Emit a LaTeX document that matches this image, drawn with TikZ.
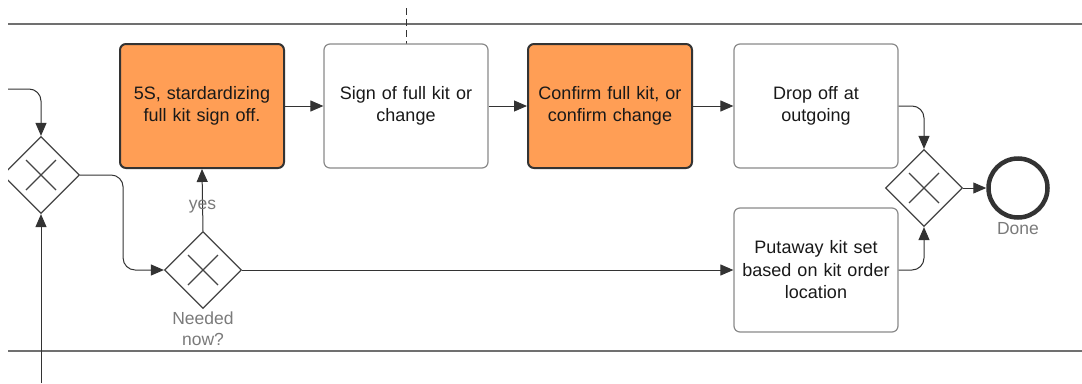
\documentclass[tikz,border=0pt]{standalone}
\usepackage{fontspec}
\setmainfont{Liberation Sans}
\usetikzlibrary{arrows.meta,shapes.geometric}
\definecolor{kitorange}{HTML}{FF9E55}
\definecolor{darkline}{HTML}{333333}
\definecolor{boxgray}{HTML}{8A8A8A}
\definecolor{lanegray}{HTML}{707070}
\definecolor{labelgray}{HTML}{7A7A7A}
\definecolor{gatecol}{HTML}{444444}
\tikzset{
  every node/.style={font=\fontsize{18}{22.5}\selectfont},
  task/.style={rectangle, rounded corners=6pt, minimum width=164pt, minimum height=124pt,
    align=center, text width=162pt, inner sep=0pt, line width=1.2pt, draw=boxgray, fill=white,
    text=black!90},
  hot/.style={task, fill=kitorange, draw=darkline, line width=2pt},
  gate/.style={diamond, aspect=1, draw=gatecol, line width=1.2pt, minimum width=77pt,
    minimum height=77pt, inner sep=0pt, fill=white},
  cross/.style={draw=gatecol, line width=1.2pt},
  flow/.style={draw=darkline, line width=1pt, rounded corners=12pt,
    -{Triangle[length=13pt,width=11pt]}},
  lane/.style={draw=lanegray, line width=2pt},
  note/.style={text=labelgray, align=center, font=\fontsize{17.5}{21}\selectfont},
  endevent/.style={circle, draw=darkline, line width=4.5pt, minimum size=59pt, inner sep=0pt}
}
\begin{document}
\begin{tikzpicture}[x=1pt, y=-1pt]
  \useasboundingbox (0,0) rectangle (1082,383);

  % lane borders and the dashed separator above
  \draw[lane] (8,24) -- (1082,24);
  \draw[lane] (8,351) -- (1082,351);
  \draw[draw=darkline, line width=1pt, dash pattern=on 7pt off 4pt] (406,8) -- (406,44);

  % tasks
  \node[hot]  (b1) at (202,106) {5S, stardardizing\\full kit sign off.};
  \node[task] (b2) at (406,106) {Sign of full kit or\\change};
  \node[hot]  (b3) at (610,106) {Confirm full kit, or\\confirm change};
  \node[task] (b4) at (816,106) {Drop off at\\outgoing};
  \node[task] (b5) at (816,270) {Putaway kit set\\based on kit order\\location};

  % exclusive gateways
  \begin{scope}
    \clip (8,0) rectangle (1082,383);
    \node[gate] (g1) at (41,175) {};
  \end{scope}
  \node[gate] (g2) at (203,270) {};
  \node[gate] (g3) at (924,188) {};
  \foreach \g in {g1,g2,g3}{
    \draw[cross] ([shift={(-15,-15)}]\g.center) -- ([shift={(15,15)}]\g.center);
    \draw[cross] ([shift={(15,-15)}]\g.center) -- ([shift={(-15,15)}]\g.center);
  }

  % end event
  \node[endevent] (done) at (1018,188) {};
  \node[note] (donelbl) at (1018,229) {Done};
  \node[note] (needlbl) at (203,328.5) {Needed\\now?};

  % free ends of incoming flows
  \coordinate (inL) at (8,89);
  \coordinate (inB) at (41,383);

  % sequence flows
  \draw[flow] (inL) -| (g1.north);
  \draw[flow] (inB) -- (g1.south);
  \draw[flow] (g1.east) -- ++(43,0) |- (g2.west);
  \draw[flow] (g2.north) -- (b1.south) node[pos=0.4, note] {yes};
  \draw[flow] (g2.east) -- (b5.west);
  \draw[flow] (b1.east) -- (b2.west);
  \draw[flow] (b2.east) -- (b3.west);
  \draw[flow] (b3.east) -- (b4.west);
  \draw[flow] (b4.east) -| (g3.north);
  \draw[flow] (b5.east) -| (g3.south);
  \draw[flow] (g3.east) -- (done.west);
\end{tikzpicture}
\end{document}
